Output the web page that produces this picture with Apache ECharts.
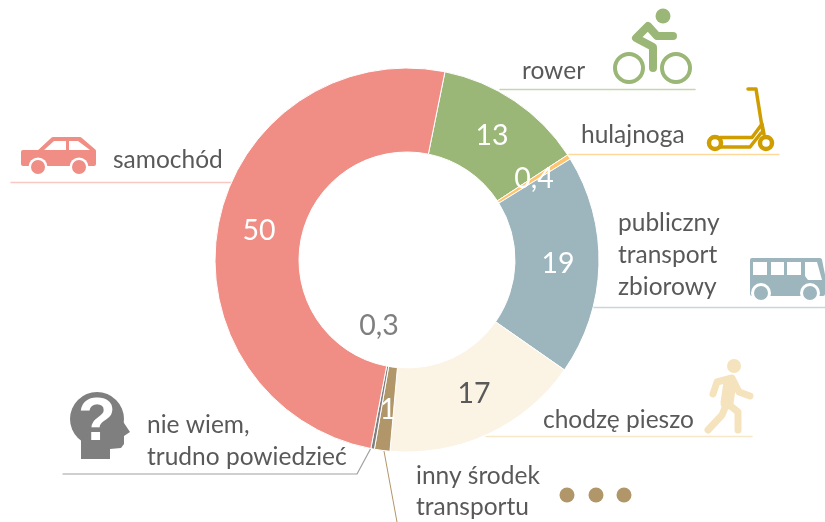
<!DOCTYPE html>
<html><head><meta charset="utf-8">
<style>html,body{margin:0;padding:0;background:#fff}#c{width:825px;height:522px}</style>
<script src="https://cdn.jsdelivr.net/npm/echarts@6/dist/echarts.min.js"></script>
</head><body><div id="c"></div>
<script>
const categories = ['rower','hulajnoga','publiczny transport zbiorowy','chodzę pieszo','inny środek transportu','nie wiem, trudno powiedzieć','samochód'];
const values = [12.6,0.4,18.5,16.7,1.3,0.3,50.1];
const valueLabels = ['13','0,4','19','17','1','0,3','50'];
const colors = ['#9BB777','#FFC46E','#9DB6BD','#FBF3E4','#B09668','#7F7F7F','#F08D85'];
const labelColors = ['#fff','#fff','#fff','#595959','#fff','#7F7F7F','#fff'];
const labelSpots = [[492,136],[534,179],[558,264],[474,394],[388,410],[379,326],[259,231]];

const TXT='#595959', FONT='Lato, Carlito, sans-serif';
const text=(t,x,y)=>({type:'text',silent:true,style:{text:t,x,y,fill:TXT,font:'24.5px '+FONT,textVerticalAlign:'middle',textAlign:'left'}});
const line=(pts,c,w)=>({type:'polyline',silent:true,shape:{points:pts},style:{fill:null,stroke:c,lineWidth:w||1.5,lineCap:'round',lineJoin:'round'}});
const circle=(x,y,r,fill,stroke,w)=>({type:'circle',silent:true,shape:{cx:x,cy:y,r},style:{fill:fill,stroke:stroke||null,lineWidth:w||0}});
const poly=(pts,fill,sw)=>({type:'polygon',silent:true,shape:{points:pts},style:{fill,stroke:sw?fill:null,lineWidth:sw||0,lineJoin:'round'}});

const RED='#F08D85',GREEN='#9BB777',YEL='#CF9D00',BLUE='#9DB6BD',CREAM='#F5E3BD',BROWN='#B09668',GREY='#7F7F7F';
const graphics=[
 // leader lines
 line([[11,182.5],[232,182.5]],'#F9C8C3'),
 line([[500,89.5],[695,89.5]],'#C5D5B0'),
 line([[569,154.5],[779,154.5]],'#FFD99A'),
 line([[592,307.5],[825,307.5]],'#C8D6DA'),
 line([[486,436.5],[752,436.5]],'#F7E8C8'),
 line([[384,451],[397,522]],BROWN,1),
 line([[371,448],[357,474],[63,474]],'#A0A0A0',1.2),
 // texts
 text('samochód',113,160), text('rower',522,71), text('hulajnoga',581,135),
 text('publiczny',618,223), text('transport',618,255), text('zbiorowy',618,287),
 text('chodzę pieszo',543,420), text('inny środek',416,476), text('transportu',416,507),
 text('nie wiem,',147,425), text('trudno powiedzieć',147,457),
 // bike
 circle(663,16,7.5,GREEN), circle(629,68,14,null,GREEN,4), circle(676,68,14,null,GREEN,4),
 line([[673,36],[657,36],[648,26],[636,38],[653,47],[653,68]],GREEN,8),
 // scooter
 line([[748,89],[756,89],[763,133]],YEL,3.5),
 circle(715,143,6,'#fff',YEL,4.5), circle(766,143,6,'#fff',YEL,4.5),
 line([[720,137.5],[752,137.5],[762,124],[764,134]],YEL,3.5),
 line([[720,147],[750,147],[761,133]],YEL,3.5),
 // car
 poly([[23,164],[23,152],[39,152],[53,139],[80,139],[94,151],[94,164]],RED,4),
 poly([[44,150],[54,141],[66,141],[66,150]],'#fff'), poly([[69,141],[78,141],[90,150],[69,150]],'#fff'),
 circle(38,167,9.5,'#fff'), circle(79,167,9.5,'#fff'), circle(38,167,7,RED), circle(79,167,7,RED),
 // head
 circle(97,419,27,GREY),
 poly([[81,459],[81,438],[122,420],[130,432],[124,436],[124,444],[121,448],[110,449],[110,459]],GREY),
 {type:'text',silent:true,style:{text:'?',x:97,y:423,fill:'#fff',font:'bold 62px "Liberation Sans", sans-serif',textAlign:'center',textVerticalAlign:'middle'}},
 // bus
 poly([[752,260],[820,260],[823,275],[823,294],[752,294]],BLUE,4),
 poly([[753,262],[767,262],[767,275],[753,275]],'#fff'), poly([[771,262],[784,262],[784,275],[771,275]],'#fff'),
 poly([[787,262],[801,262],[801,275],[787,275]],'#fff'), poly([[805,262],[817,262],[822,280],[808,280],[805,276]],'#fff'),
 circle(761,293,10,'#fff'), circle(810,293,10,'#fff'), circle(761,293,7,BLUE), circle(810,293,7,BLUE),
 // walker
 circle(734,366,7,CREAM),
 line([[713,394],[717,382],[732,378],[739,392],[750,396]],CREAM,7),
 line([[730,382],[727,403]],CREAM,13),
 line([[727,403],[738,412],[738,430]],CREAM,7), line([[727,403],[722,415],[708,430]],CREAM,7),
 // dots
 circle(567,495,7.5,BROWN), circle(596,495,7.5,BROWN), circle(624,495,7.5,BROWN)
];

const chart=echarts.init(document.getElementById('c'),null,{renderer:'canvas'});
chart.setOption({
 animation:false,
 graphic:{elements:graphics},
 series:[{
  type:'pie',center:[407,260],radius:[108,192],startAngle:78.6,clockwise:true,silent:true,z:3,
  avoidLabelOverlap:false,
  itemStyle:{borderColor:'#fff',borderWidth:1},
  labelLine:{show:false},
  label:{show:true,position:'inside',fontFamily:FONT,fontSize:28.5},
  labelLayout:p=>({x:labelSpots[p.dataIndex][0],y:labelSpots[p.dataIndex][1],align:'center',verticalAlign:'middle'}),
  data:categories.map((name,i)=>({name,value:values[i],
    itemStyle:{color:colors[i]},
    label:{formatter:valueLabels[i],color:labelColors[i]}}))
 }]
});
</script></body></html>
